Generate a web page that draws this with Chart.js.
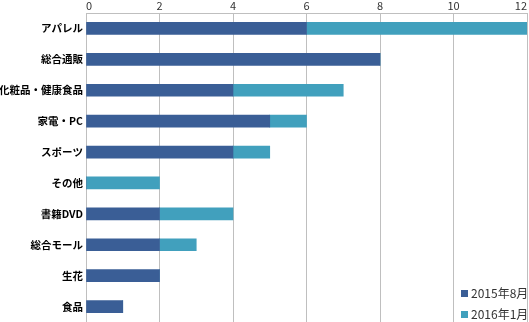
<!DOCTYPE html>
<html>
<head>
<meta charset="utf-8">
<script src="https://cdn.jsdelivr.net/npm/chart.js@4"></script>
<style>
  html, body { margin: 0; padding: 0; background: #fff; overflow: hidden; }
  #wrap { width: 529px; height: 322px; position: relative; }
</style>
</head>
<body>
<div id="wrap"><canvas id="chart"></canvas></div>
<script>
// カテゴリと系列
let categories = ['アパレル', '総合通販', '化粧品・健康食品', '家電・PC', 'スポーツ', 'その他', '書籍DVD', '総合モール', '生花', '食品'];
let aug2015 = [6, 8, 4, 5, 4, 0, 2, 2, 2, 1];
let jan2016 = [6, 0, 3, 1, 1, 2, 2, 1, 0, 0];
let seriesNames = ['2015年8月', '2016年1月'];
let xTicks = [0, 2, 4, 6, 8, 10, 12];

let ctx = document.getElementById('chart').getContext('2d');

// 凡例はプロット内の右下に描く
const cornerLegend = {
	id: 'cornerLegend',
	afterDraw(chart) {
		const c = chart.ctx;
		const ds = chart.data.datasets;
		c.save();
		c.font = '12px "Noto Sans CJK JP", sans-serif';
		c.textBaseline = 'middle';
		ds.forEach((d, i) => {
			let y = 293 + i * 21;
			c.fillStyle = d.backgroundColor;
			c.fillRect(461, y - 3, 7, 7);
			c.fillStyle = '#333';
			c.fillText(d.label, 471, y);
		});
		c.restore();
	}
};

let chart = new Chart(ctx, {
	type: 'bar',
	data: {
		labels: categories,
		datasets: [{
			label: seriesNames[0],
			data: aug2015,
			backgroundColor: '#3A5E96',
			barThickness: 12
		}, {
			label: seriesNames[1],
			data: jan2016,
			backgroundColor: '#41A0BD',
			barThickness: 12
		}]
	},
	options: {
		indexAxis: 'y',
		responsive: true,
		maintainAspectRatio: false,
		animation: false,
		layout: { padding: { right: 2, top: 0, bottom: 0, left: 0 } },
		plugins: {
			legend: { display: false },
			tooltip: { enabled: false }
		},
		scales: {
			x: {
				position: 'top',
				stacked: true,
				min: 0,
				max: 12,
				afterBuildTicks: axis => { axis.ticks = xTicks.map(v => ({ value: v })); },
				afterFit: axis => { axis.height = 13; axis.paddingLeft = 0; axis.paddingRight = 0; },
				grid: { color: '#BFBFBF', drawTicks: false, lineWidth: 1 },
				border: { color: '#BFBFBF' },
				ticks: {
					padding: 1,
					align: 'inner',
					color: '#333',
					font: { family: '"Noto Sans CJK JP", sans-serif', size: 11 }
				}
			},
			y: {
				stacked: true,
				afterFit: axis => { axis.width = 86; axis.paddingTop = 0; axis.paddingBottom = 0; },
				grid: { display: false, drawTicks: false },
				border: { color: '#BFBFBF' },
				ticks: {
					padding: 3,
					color: '#000',
					font: { family: '"Noto Sans CJK JP", sans-serif', size: 10.5, weight: 'bold' }
				}
			}
		}
	},
	plugins: [cornerLegend]
});
</script>
</body>
</html>
